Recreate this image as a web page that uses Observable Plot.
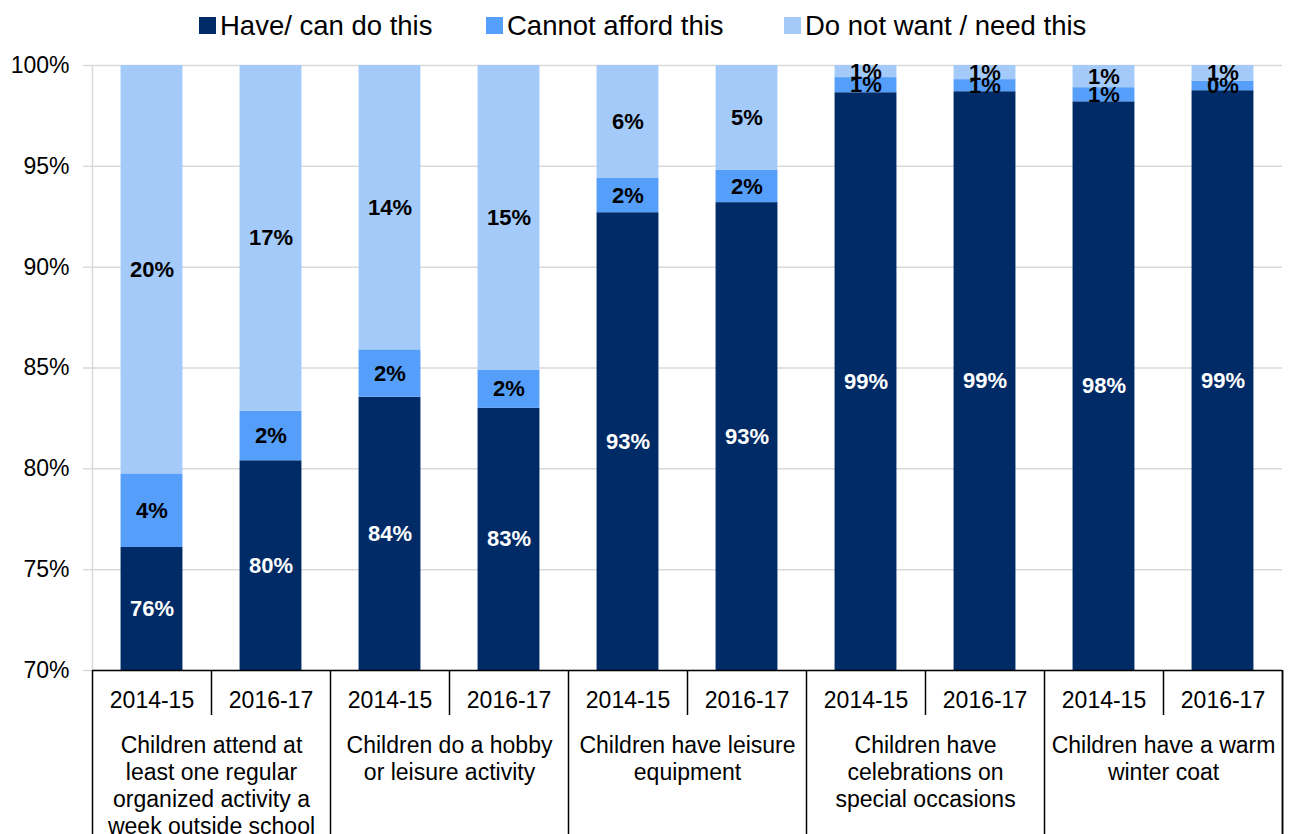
<!DOCTYPE html>
<html><head><meta charset="utf-8">
<script src="https://cdn.jsdelivr.net/npm/d3@7"></script>
<script src="https://cdn.jsdelivr.net/npm/@observablehq/plot@0.6"></script>
<style>
body{margin:0;background:#fff;font-family:"Liberation Sans",Arial,sans-serif;}
#legend{position:relative;height:44px;width:1290px;}
.item{position:absolute;top:0;height:44px;display:flex;align-items:center;font-size:27.5px;color:#000;padding-top:7px;box-sizing:border-box;white-space:nowrap}
.sw{width:17px;height:17px;margin-right:4px;display:inline-block}
#chart svg{font-family:"Liberation Sans",Arial,sans-serif;}
</style></head><body>
<div id="legend"></div>
<div id="chart"></div>
<script>
const periods = ["2014-15","2016-17","2014-15","2016-17","2014-15","2016-17","2014-15","2016-17","2014-15","2016-17"];
const groups = [
  "Children attend at\nleast one regular\norganized activity a\nweek outside school",
  "Children do a hobby\nor leisure activity",
  "Children have leisure\nequipment",
  "Children have\ncelebrations on\nspecial occasions",
  "Children have a warm\nwinter coat"
];
const seriesNames = ["Have/ can do this", "Cannot afford this", "Do not want / need this"];
const haveValues     = [76.1, 80.4, 83.55, 83.0, 92.7, 93.2, 98.65, 98.7, 98.2, 98.75];
const cannotValues   = [3.65, 2.45, 2.35, 1.9, 1.7, 1.6, 0.75, 0.6, 0.7, 0.48];
const dontWantValues = [20.25, 17.15, 14.1, 15.1, 5.6, 5.2, 0.6, 0.7, 1.1, 0.77];
const yTicks = [70, 75, 80, 85, 90, 95, 100];

const colors = ["#002b66", "#559ffa", "#a4cafa"];
const labelColors = ["white", "black", "black"];
const yDomain = [70, 100];
const half = 0.26;

// legend
const legendPos = [199, 486, 784];
const legend = document.getElementById("legend");
seriesNames.forEach((name, s) => {
  const it = document.createElement("div");
  it.className = "item";
  it.style.left = legendPos[s] + "px";
  const sw = document.createElement("span");
  sw.className = "sw";
  sw.style.background = colors[s];
  it.appendChild(sw);
  it.appendChild(document.createTextNode(name));
  legend.appendChild(it);
});

const seriesValues = [haveValues, cannotValues, dontWantValues];
const rows = [];
periods.forEach((p, i) => {
  let base = 0;
  seriesValues.forEach((arr, s) => {
    const v = arr[i];
    rows.push({i, s, value: v, y1: base, y2: base + v});
    base += v;
  });
});

const barIdx = periods.map((d, i) => i);
const shortSeps = groups.map((d, g) => 2 * g + 0.5);
const longSeps = [-0.5, ...groups.map((d, g) => 2 * g + 1.5)];

const chart = Plot.plot({
  width: 1290,
  height: 790,
  marginTop: 21,
  marginBottom: 164,
  marginLeft: 92,
  marginRight: 8,
  x: {domain: [-0.5, periods.length - 0.5], axis: null},
  y: {domain: yDomain},
  color: {type: "identity"},
  style: {fontFamily: "'Liberation Sans', Arial, sans-serif", background: "white"},
  marks: [
    Plot.gridY(yTicks, {stroke: "#d9d9d9", strokeOpacity: 1, strokeWidth: 1.5}),
    Plot.axisY(yTicks, {tickFormat: d => d + "%", tickSize: 9, tickPadding: 14, fontSize: 23, stroke: "#d9d9d9", fill: "black", label: null, strokeWidth: 1.5}),
    Plot.ruleX([-0.5], {stroke: "#d9d9d9", strokeWidth: 1.5}),
    Plot.rectY(rows, {
      x1: d => d.i - half, x2: d => d.i + half,
      y1: d => Math.max(d.y1, yDomain[0]), y2: "y2",
      fill: d => colors[d.s]
    }),
    Plot.ruleY([yDomain[0]], {stroke: "black", strokeWidth: 1.5}),
    Plot.ruleX(longSeps.concat([periods.length - 0.5]), {y1: () => yDomain[0], y2: () => yDomain[0], insetBottom: -164, stroke: "black", strokeWidth: 1.5}),
    Plot.ruleX(shortSeps, {y1: () => yDomain[0], y2: () => yDomain[0], insetBottom: -45, stroke: "black", strokeWidth: 1.5}),
    Plot.text(periods, {x: (d, i) => barIdx[i], frameAnchor: "bottom", dy: 37, fontSize: 23, fill: "black"}),
    Plot.text(groups, {x: (d, g) => 2 * g + 0.5, frameAnchor: "bottom", lineAnchor: "top", dy: 63, lineHeight: 1.18, fontSize: 23, fill: "black"}),
    Plot.text(rows, {
      x: "i",
      y: d => (Math.max(d.y1, yDomain[0]) + d.y2) / 2,
      text: d => Math.round(d.value) + "%",
      fill: d => labelColors[d.s],
      fontWeight: "bold",
      fontSize: 22
    })
  ]
});
document.getElementById("chart").appendChild(chart);
</script>
</body></html>
